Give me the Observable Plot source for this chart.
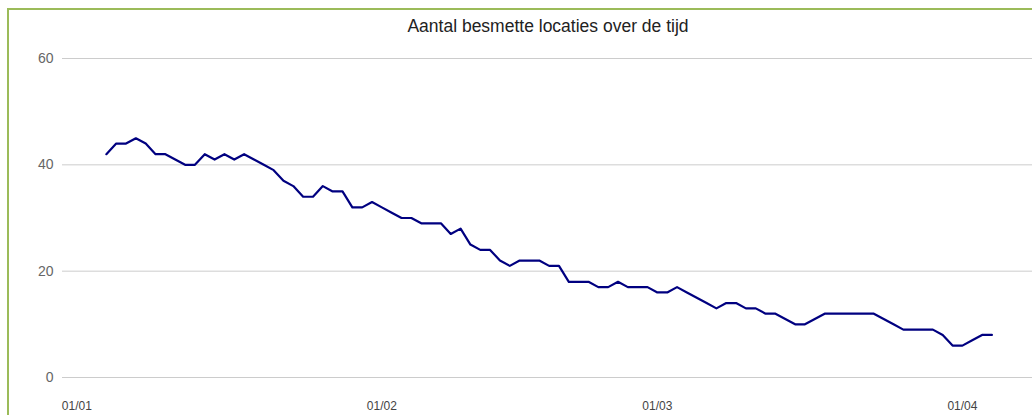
<!DOCTYPE html>
<html>
<head>
<meta charset="utf-8">
<script src="https://cdn.jsdelivr.net/npm/d3@7"></script>
<script src="https://cdn.jsdelivr.net/npm/@observablehq/plot@0.6"></script>
<style>
  html, body { margin: 0; padding: 0; background: #fff; overflow: hidden; width: 1032px; height: 415px; }
  #frame { position: absolute; left: 7px; top: 8px; width: 1200px; height: 600px;
           border-left: 2px solid #9bbb59; border-top: 2px solid #9bbb59; }
  #title { position: absolute; left: 0; top: 16px; width: 1096px; text-align: center;
           font: 17.5px "Liberation Sans", Arial, sans-serif; color: #222; }
  #chart { position: absolute; left: 0; top: 0; }
</style>
</head>
<body>
<div id="frame"></div>
<div id="title">Aantal besmette locaties over de tijd</div>
<div id="chart"></div>
<script>
// Daily series, first value on 4 January 2021
const startDate = "2021-01-04";
const values = [
  42, 44, 44, 45, 44, 42, 42, 41, 40, 40,
  42, 41, 42, 41, 42, 41, 40, 39, 37, 36,
  34, 34, 36, 35, 35, 32, 32, 33, 32, 31,
  30, 30, 29, 29, 29, 27, 28, 25, 24, 24,
  22, 21, 22, 22, 22, 21, 21, 18, 18, 18,
  17, 17, 18, 17, 17, 17, 16, 16, 17, 16,
  15, 14, 13, 14, 14, 13, 13, 12, 12, 11,
  10, 10, 11, 12, 12, 12, 12, 12, 12, 11,
  10, 9, 9, 9, 9, 8, 6, 6, 7, 8, 8
];
const yTicks = [0, 20, 40, 60];
const xTickDates = ["2021-01-01", "2021-02-01", "2021-03-01", "2021-04-01"];

const start = new Date(startDate + "T00:00:00Z");
const data = values.map((v, i) => ({ date: d3.utcDay.offset(start, i), value: v }));
const xTicks = xTickDates.map(s => new Date(s + "T00:00:00Z"));

const chart = Plot.plot({
  width: 1032,
  height: 415,
  marginLeft: 62,
  marginRight: 0,
  marginTop: 58,
  marginBottom: 38,
  style: { fontFamily: "'Liberation Sans', Arial, sans-serif", background: "transparent", overflow: "visible" },
  x: { type: "utc", domain: [new Date(Date.UTC(2020, 11, 30, 13)), new Date(Date.UTC(2021, 3, 8, 3))] },
  y: { domain: [0, 60] },
  marks: [
    Plot.gridY(yTicks, { stroke: "#cccccc", strokeOpacity: 1 }),
    Plot.axisY(yTicks, { tickSize: 0, tickPadding: 9, fontSize: 14, color: "#666666", label: null }),
    Plot.axisX(xTicks, { tickSize: 0, tickPadding: 24, fontSize: 12, color: "#444444",
                          tickFormat: d3.utcFormat("%d/%m"), label: null }),
    Plot.line(data, { x: "date", y: "value", stroke: "#000080", strokeWidth: 2.2 })
  ]
});
document.getElementById("chart").appendChild(chart);
</script>
</body>
</html>
